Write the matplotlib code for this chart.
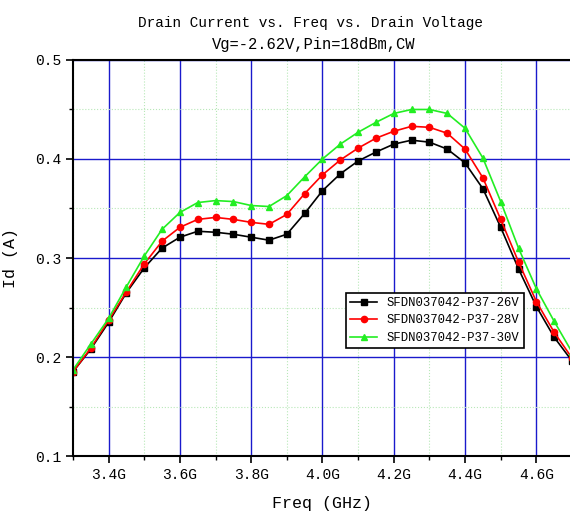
import numpy as np
import matplotlib.pyplot as plt
from matplotlib.ticker import MultipleLocator, FixedLocator

plt.rcParams['font.family'] = ['Liberation Mono', 'DejaVu Sans Mono']

freq = [3.30, 3.35, 3.40, 3.45, 3.50, 3.55, 3.60, 3.65, 3.70, 3.75,
        3.80, 3.85, 3.90, 3.95, 4.00, 4.05, 4.10, 4.15, 4.20, 4.25,
        4.30, 4.35, 4.40, 4.45, 4.50, 4.55, 4.60, 4.65, 4.70]

id_26v = [0.185, 0.208, 0.235, 0.265, 0.290, 0.310, 0.321, 0.327, 0.326, 0.324,
          0.321, 0.318, 0.324, 0.345, 0.368, 0.385, 0.398, 0.407, 0.415, 0.419,
          0.417, 0.410, 0.396, 0.370, 0.331, 0.289, 0.251, 0.220, 0.196]
id_28v = [0.185, 0.209, 0.237, 0.266, 0.294, 0.317, 0.331, 0.339, 0.341, 0.339,
          0.336, 0.334, 0.344, 0.365, 0.384, 0.399, 0.411, 0.421, 0.428, 0.433,
          0.432, 0.426, 0.410, 0.381, 0.339, 0.296, 0.256, 0.225, 0.199]
id_30v = [0.187, 0.213, 0.239, 0.271, 0.302, 0.329, 0.346, 0.356, 0.358, 0.357,
          0.353, 0.352, 0.363, 0.382, 0.400, 0.415, 0.427, 0.437, 0.446, 0.450,
          0.450, 0.446, 0.431, 0.401, 0.357, 0.310, 0.269, 0.236, 0.205]

labels = ['SFDN037042-P37-26V', 'SFDN037042-P37-28V', 'SFDN037042-P37-30V']
xticks = [3.4, 3.6, 3.8, 4.0, 4.2, 4.4, 4.6]
xticklabels = ['3.4G', '3.6G', '3.8G', '4.0G', '4.2G', '4.4G', '4.6G']

fig = plt.figure(figsize=(5.7, 5.14), dpi=100)
ax = fig.add_axes([0.128, 0.1128, 0.8755, 0.7705])

ax.plot(freq, id_26v, '-s', color='black', ms=4.5, lw=1.2, label=labels[0])
ax.plot(freq, id_28v, '-o', color='red', ms=4.5, lw=1.2, label=labels[1])
ax.plot(freq, id_30v, '-^', color='#22ee22', ms=5, lw=1.2, label=labels[2])

ax.set_xlim(3.3, 4.7)
ax.set_ylim(0.1, 0.5)
ax.xaxis.set_major_locator(FixedLocator(xticks))
ax.set_xticklabels(xticklabels)
ax.xaxis.set_minor_locator(MultipleLocator(0.1))
ax.yaxis.set_major_locator(MultipleLocator(0.1))
ax.yaxis.set_minor_locator(MultipleLocator(0.05))

ax.grid(which='major', color='#1a1acc', lw=1.0, ls='-')
ax.grid(which='minor', color='#b8e8b8', lw=0.8, ls=':')
ax.set_axisbelow(True)

ax.tick_params(which='major', direction='out', length=5, width=1.2, labelsize=10.5)
ax.tick_params(which='minor', direction='out', length=3, width=1.0)
ax.tick_params(right=True, which='both')
for s in ax.spines.values():
    s.set_linewidth(1.5)

ax.set_xlabel('Freq (GHz)', fontsize=12, labelpad=10)
ax.set_ylabel('Id (A)', fontsize=12, labelpad=12)

# two title lines placed separately to match the original spacing
fig.text(310 / 570, 1 - 23 / 514, 'Drain Current vs. Freq vs. Drain Voltage',
         ha='center', va='center', fontsize=10.4)
fig.text(314 / 570, 1 - 45 / 514, 'Vg=-2.62V,Pin=18dBm,CW',
         ha='center', va='center', fontsize=11.2)

leg = ax.legend(loc='upper left', bbox_to_anchor=(0.535, 0.428), fontsize=8.8,
                fancybox=False, framealpha=1, edgecolor='black',
                handlelength=2.2, borderpad=0.35, labelspacing=0.45)
leg.get_frame().set_linewidth(1.2)

fig.savefig('out.png', dpi=100)
